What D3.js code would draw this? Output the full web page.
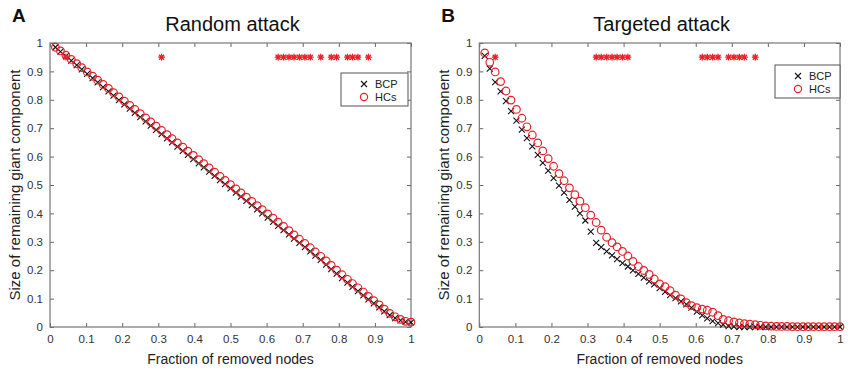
<!DOCTYPE html>
<html>
<head>
<meta charset="utf-8">
<script src="https://cdn.jsdelivr.net/npm/d3@7"></script>
<style>
  body { margin: 0; background: #fff; }
  text { font-family: Arial, "Liberation Sans", sans-serif; }
</style>
</head>
<body>
<svg width="850" height="370"></svg>
<script>
// fraction of removed nodes (shared x grid)
const fraction = [.015,.029,.044,.059,.074,.088,.103,.118,.132,.147,.162,.176,.191,.206,.221,.235,.250,.265,.279,.294,
  .309,.324,.338,.353,.368,.382,.397,.412,.426,.441,.456,.471,.485,.500,.515,.529,.544,.559,.574,.588,
  .603,.618,.632,.647,.662,.676,.691,.706,.721,.735,.750,.765,.779,.794,.809,.824,.838,.853,.868,.882,
  .897,.912,.926,.941,.956,.971,.985,1.000]

// A: random attack
const randomHCs = [.985,.972,.957,.942,.927,.913,.898,.883,.869,.854,.840,.825,.810,.795,.780,.766,.751,.736,.722,.707,
  .692,.677,.663,.648,.633,.619,.604,.589,.575,.560,.545,.530,.516,.501,.486,.472,.457,.442,.427,.413,
  .398,.383,.369,.354,.339,.324,.309,.294,.279,.264,.249,.233,.217,.200,.184,.168,.153,.138,.123,.108,
  .093,.078,.063,.048,.036,.027,.020,.017]
const randomBCP = [.985,.970,.954,.938,.922,.907,.891,.876,.861,.845,.830,.815,.799,.784,.769,.754,.739,.724,.709,.694,
  .679,.664,.650,.635,.620,.606,.591,.576,.562,.547,.532,.517,.503,.488,.473,.459,.444,.429,.414,.400,
  .385,.370,.356,.341,.326,.311,.296,.281,.266,.251,.236,.220,.204,.188,.172,.156,.141,.126,.111,.097,
  .083,.069,.055,.042,.031,.023,.018,.016]
const randomStars = [.044,.309,.632,.647,.662,.676,.691,.706,.721,.750,.779,.794,.824,.838,.853,.882]

// B: targeted attack
const targetedHCs = [.965,.932,.898,.864,.831,.799,.766,.735,.705,.676,.648,.620,.593,.566,.540,.515,.490,.466,.443,.420,
  .394,.368,.341,.316,.297,.282,.266,.250,.231,.213,.199,.185,.169,.152,.142,.128,.112,.099,.086,.075,
  .068,.063,.059,.052,.040,.027,.022,.018,.014,.012,.010,.008,.006,.004,.003,.002,.002,.002,.001,.001,
  .001,.001,.001,.001,.001,.001,.001,.001]
const targetedBCP = [.955,.910,.862,.830,.795,.760,.727,.695,.665,.636,.606,.578,.551,.524,.498,.473,.448,.424,.400,.375,
  .336,.296,.281,.266,.252,.239,.225,.213,.199,.187,.174,.161,.150,.137,.124,.112,.102,.090,.080,.068,
  .054,.041,.030,.021,.014,.008,.003,.001,0,0,0,0,0,0,0,0,0,0,0,0,
  0,0,0,0,0,0,0,0]
const targetedStars = [.044,.324,.338,.353,.368,.382,.397,.412,.618,.632,.647,.662,.691,.706,.721,.735,.765]

const starLevel = 0.95
const tickValues = [0,.1,.2,.3,.4,.5,.6,.7,.8,.9,1]

const panels = [
  { letter: 'A', title: 'Random attack', left: 50, right: 411, bcp: randomBCP, hcs: randomHCs, stars: randomStars,
    legend: { x: 341, y: 73, w: 67, h: 33 } },
  { letter: 'B', title: 'Targeted attack', left: 479.3, right: 840, bcp: targetedBCP, hcs: targetedHCs, stars: targetedStars,
    legend: { x: 775, y: 65, w: 65, h: 33 } }
]

const TOP = 43, BOTTOM = 327

const svg = d3.select('svg')

panels.forEach(p => {
  const x = d3.scaleLinear().domain([0, 1]).range([p.left, p.right])
  const y = d3.scaleLinear().domain([0, 1]).range([BOTTOM, TOP])
  const g = svg.append('g')

  // panel letter + title
  g.append('text').text(p.letter)
    .attr('x', p.left - 38).attr('y', 22)
    .attr('font-size', 19).attr('font-weight', 'bold').attr('fill', '#111')
  g.append('text').text(p.title)
    .attr('x', (p.left + p.right) / 2 + 2).attr('y', 31)
    .attr('text-anchor', 'middle').attr('font-size', 20).attr('fill', '#111')

  // axes, ticks pointing inward on all sides
  const bottom = g.append('g').attr('transform', `translate(0,${BOTTOM})`)
    .call(d3.axisBottom(x).tickValues(tickValues).tickSize(-4).tickPadding(8).tickFormat(d3.format('~g')))
  const left = g.append('g').attr('transform', `translate(${p.left},0)`)
    .call(d3.axisLeft(y).tickValues(tickValues).tickSize(-4).tickPadding(7).tickFormat(d3.format('~g')))
  const top = g.append('g').attr('transform', `translate(0,${TOP})`)
    .call(d3.axisTop(x).tickValues(tickValues).tickSize(-4).tickFormat(''))
  const right = g.append('g').attr('transform', `translate(${p.right},0)`)
    .call(d3.axisRight(y).tickValues(tickValues).tickSize(-4).tickFormat(''))
  ;[bottom, left, top, right].forEach(a => {
    a.select('.domain').remove()
    a.selectAll('line').attr('stroke', '#666')
    a.selectAll('text').attr('font-size', 11.5).attr('fill', '#333')
      .attr('font-family', 'Arial, "Liberation Sans", sans-serif')
  })

  g.append('rect')
    .attr('x', p.left).attr('y', TOP)
    .attr('width', p.right - p.left).attr('height', BOTTOM - TOP)
    .attr('fill', 'none').attr('stroke', '#777').attr('stroke-width', 1.2)

  // axis labels
  g.append('text').text('Fraction of removed nodes')
    .attr('x', (p.left + p.right) / 2).attr('y', 364)
    .attr('text-anchor', 'middle').attr('font-size', 14).attr('fill', '#222')
  g.append('text').text('Size of remaining giant component')
    .attr('transform', `translate(${p.left - 30},${(TOP + BOTTOM) / 2}) rotate(-90)`)
    .attr('text-anchor', 'middle').attr('font-size', 15).attr('fill', '#222')

  // BCP crosses
  g.append('g').selectAll('path')
    .data(p.bcp)
    .join('path')
    .attr('d', (d, i) => {
      const cx = x(fraction[i]), cy = y(d), s = 3
      return `M${cx - s},${cy - s}L${cx + s},${cy + s}M${cx - s},${cy + s}L${cx + s},${cy - s}`
    })
    .attr('stroke', '#111').attr('stroke-width', 1.1)

  // HCs circles
  g.append('g').selectAll('circle')
    .data(p.hcs)
    .join('circle')
    .attr('cx', (d, i) => x(fraction[i]))
    .attr('cy', d => y(d))
    .attr('r', 3.8)
    .attr('fill', 'none').attr('stroke', '#e8222a').attr('stroke-width', 1.2)

  // significance stars
  g.append('g').selectAll('path')
    .data(p.stars)
    .join('path')
    .attr('d', d => {
      const cx = x(d), cy = y(starLevel), s = 3.4, t = 2.5
      return `M${cx - s},${cy}L${cx + s},${cy}M${cx},${cy - s}L${cx},${cy + s}` +
        `M${cx - t},${cy - t}L${cx + t},${cy + t}M${cx - t},${cy + t}L${cx + t},${cy - t}`
    })
    .attr('stroke', '#f0202a').attr('stroke-width', 1.3)

  // legend
  const L = p.legend
  const lg = g.append('g')
  lg.append('rect').attr('x', L.x).attr('y', L.y).attr('width', L.w).attr('height', L.h)
    .attr('fill', '#fff').attr('stroke', '#555').attr('stroke-width', 1)
  const mx = L.x + 23
  lg.append('path')
    .attr('d', `M${mx - 3},${L.y + 8}L${mx + 3},${L.y + 14}M${mx - 3},${L.y + 14}L${mx + 3},${L.y + 8}`)
    .attr('stroke', '#111').attr('stroke-width', 1.1)
  lg.append('circle').attr('cx', mx).attr('cy', L.y + 24).attr('r', 3.6)
    .attr('fill', 'none').attr('stroke', '#e8222a').attr('stroke-width', 1.2)
  lg.append('text').text('BCP').attr('x', mx + 11).attr('y', L.y + 15)
    .attr('font-size', 11).attr('fill', '#222')
  lg.append('text').text('HCs').attr('x', mx + 11).attr('y', L.y + 28)
    .attr('font-size', 11).attr('fill', '#222')
})
</script>
</body>
</html>
